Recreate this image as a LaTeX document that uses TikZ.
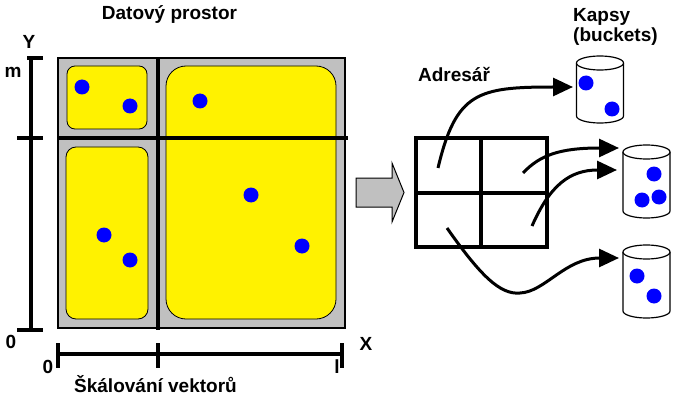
\documentclass[tikz,border=0pt]{standalone}
\usepackage{fontspec}
\setmainfont{Liberation Sans}
\usetikzlibrary{positioning, calc, arrows.meta}

\definecolor{prostor}{RGB}{192,192,192}
\definecolor{tecka}{RGB}{0,0,255}

% bucket: center x, top y, bottom y, name
\newcommand{\kapsa}[4]{%
  \fill[white] (#1-23.5,#2) -- (#1-23.5,#3) arc(180:0:23.5 and 7) -- (#1+23.5,#2) -- cycle;
  \draw[line width=1.2pt] (#1-23.5,#2) -- (#1-23.5,#3) arc(180:0:23.5 and 7) -- (#1+23.5,#2);
  \draw[line width=1.2pt, fill=white] (#1,#2) ellipse (23.5 and 7);
  \coordinate (#4) at (#1,#2);
}

\begin{document}
\begin{tikzpicture}[x=1pt, y=-1pt,
    lbl/.style={font=\fontsize{19}{22}\selectfont\bfseries, inner sep=0pt},
    axis/.style={line width=4pt},
    cell/.style={draw, line width=4pt, minimum width=65.5pt, minimum height=54.5pt, inner sep=0pt},
    link/.style={line width=3pt, -{Triangle[length=20pt, width=18pt]}}]
    \useasboundingbox (0,0) rectangle (676,406);

    % datovy prostor
    \draw[fill=prostor, line width=1.5pt] (58,58) rectangle (345,328);
    \draw[fill=yellow, line width=0.8pt, rounded corners=8pt] (67,66) rectangle (147,129);
    \draw[fill=yellow, line width=0.8pt, rounded corners=10pt] (66,147) rectangle (148,319);
    \draw[fill=yellow, line width=0.8pt, rounded corners=20pt] (166,66) rectangle (336,319);
    \draw[line width=3.5pt] (158,58) -- (158,330);
    \draw[line width=3.5pt] (58,138) -- (348,138);

    \foreach \x/\y in {82/87, 130/106, 200/101, 251/195, 302/246, 104/235, 130/260}
        \fill[tecka] (\x,\y) circle (7.5);

    \node[lbl, anchor=base] (nadpis) at (169.5,20) {Datový prostor};

    % osa Y
    \draw[axis] (31,58) -- (31,330);
    \draw[axis] (27,58) -- (43,58);
    \draw[axis] (17,138) -- (43,138);
    \draw[axis] (17,330) -- (43,330);
    \node[lbl, anchor=base] (osay) at (29,49) {Y};
    \node[lbl, anchor=base] (horniy) at (13,78) {m};
    \node[lbl, anchor=base] (nulay) at (11,348) {0};

    % osa X
    \draw[axis] (58,354) -- (342,354);
    \foreach \x in {58, 158, 342}
        \draw[axis] (\x,343) -- (\x,368);
    \node[lbl, anchor=base] (nulax) at (48,373) {0};
    \node[lbl, anchor=base] (hornix) at (337,373) {l};
    \node[lbl, anchor=base] (osax) at (366,350) {X};
    \node[lbl, anchor=base] (skalovani) at (155.5,392) {Škálování vektorů};

    % sipka
    \draw[fill=prostor, line width=1pt] (356,178) -- (392,178) -- (392,163) -- (404,192.5)
        -- (392,222) -- (392,207) -- (356,207) -- cycle;

    % adresar
    \node[cell] (d11) at (448.5,165.5) {};
    \node[cell] (d12) at (514,165.5) {};
    \node[cell] (d21) at (448.5,220) {};
    \node[cell] (d22) at (514,220) {};
    \node[lbl, anchor=base] (adresar) at (454,82) {Adresář};

    % kapsy
    \kapsa{600}{63}{116}{k1}
    \kapsa{646.5}{152}{211}{k2}
    \kapsa{646.5}{252}{311}{k3}
    \foreach \x/\y in {586/83, 612/109, 654/174, 642/200, 659/197, 637/276, 654/296}
        \fill[tecka] (\x,\y) circle (7.5);
    \node[lbl, anchor=base west] (kapsy) at (573,22) {Kapsy};
    \node[lbl, anchor=base west] (buckets) at (573,42) {(buckets)};

    % odkazy
    \coordinate (s1) at (438,168);
    \coordinate (s2) at (523,173);
    \coordinate (s3) at (532,226);
    \coordinate (s4) at (447,228);
    \coordinate (t1) at (573,87);
    \coordinate (t2) at (619,148);
    \coordinate (t3) at (617,170);
    \coordinate (t4) at (619,258);
    \draw[link] (s1) .. controls (456,92) and (478,87) .. (t1);
    \draw[link] (s2) .. controls (540,155) and (560,148) .. (t2);
    \draw[link] (s3) .. controls (550,185) and (570,170) .. (t3);
    \draw[link] (s4) .. controls (480,275) and (500,295) .. (520,293)
        .. controls (545,292) and (565,258) .. (t4);
\end{tikzpicture}
\end{document}
